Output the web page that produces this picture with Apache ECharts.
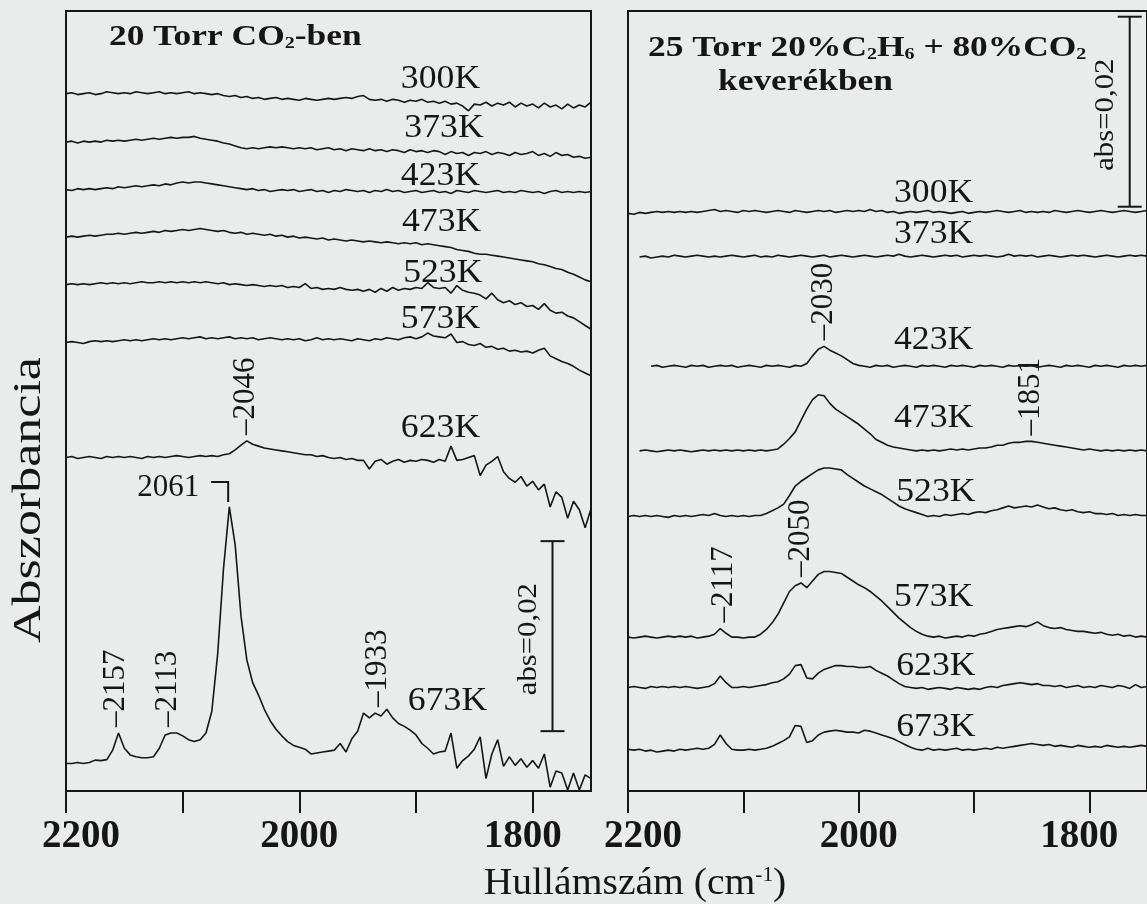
<!DOCTYPE html>
<html>
<head>
<meta charset="utf-8">
<script src="https://cdn.jsdelivr.net/npm/echarts@6.0.0/dist/echarts.min.js"></script>
<style>
  html, body { margin: 0; padding: 0; background: #e9ecea; }
  #chart { width: 1147px; height: 904px; }
</style>
</head>
<body>
<div id="chart"></div>
<script>
// ---------------------------------------------------------------
// Data: temperature series of IR spectra, absorbance in mAbs
// (1 mAbs = 0.001 abs) relative to the start of each trace,
// sampled on a 5 cm-1 grid from 2200 down to 1750 cm-1.
// ---------------------------------------------------------------
const temperatures = ['300K', '373K', '423K', '473K', '523K', '573K', '623K', '673K'];

const wavenumbers = [];
for (let w = 2200; w >= 1750; w -= 5) wavenumbers.push(w);

// 20 Torr CO2
const co2_300 = [
  0, 0.1, -0.1, 0, 0.1, -0.1, 0, 0.2, 0.1, 0,
  0.1, 0, 0.2, 0.1, 0, 0.1, 0.2, 0, 0.1, 0,
  0.1, 0.2, 0, 0.1, 0, -0.1, 0, -0.2, -0.3, -0.2,
  -0.4, -0.3, -0.5, -0.4, -0.6, -0.5, -0.4, -0.6, -0.5, -0.6,
  -0.7, -0.5, -0.6, -0.7, -0.6, -0.5, -0.6, -0.5, -0.4, -0.5,
  -0.3, -0.2, -0.6, -0.7, -0.6, -0.8, -0.6, -0.7, -0.9, -0.7,
  -0.8, -0.6, -0.9, -0.8, -1.0, -0.8, -1.1, -1.0, -1.3, -1.8,
  -1.1, -1.2, -0.9, -1.3, -1.0, -1.2, -0.9, -1.4, -1.0, -1.3,
  -1.1, -1.5, -1.0, -1.4, -1.2, -1.6, -1.1, -1.5, -1.2, -1.4,
  -0.9
];
const co2_373 = [
  0, 0.1, -0.1, 0.1, 0, 0.1, 0, 0.2, 0.1, 0.2,
  0.1, 0.2, 0.3, 0.2, 0.3, 0.4, 0.3, 0.4, 0.5, 0.4,
  0.5, 0.5, 0.6, 0.4, 0.3, 0.2, 0.1, -0.1, -0.2, -0.4,
  -0.6, -0.7, -0.6, -0.7, -0.6, -0.5, -0.6, -0.5, -0.6, -0.7,
  -0.6, -0.7, -0.6, -0.8, -0.7, -0.6, -0.8, -0.7, -0.9, -0.7,
  -0.8, -0.9, -0.7, -0.9, -0.8, -1.0, -0.8, -0.9, -1.1, -0.8,
  -1.0, -0.9, -1.1, -0.9, -1.0, -1.3, -1.0, -1.2, -1.1, -1.4,
  -1.1, -1.2, -1.0, -1.3, -1.1, -1.2, -1.4, -1.1, -1.3, -1.2,
  -1.0, -1.4, -1.2, -1.5, -1.1, -1.4, -1.3, -1.6, -1.5, -1.7,
  -1.6
];
const co2_423 = [
  0, -0.1, 0.1, 0, 0.1, 0, 0.1, 0.2, 0.1, 0.3,
  0.2, 0.3, 0.4, 0.3, 0.4, 0.5, 0.4, 0.6, 0.5, 0.7,
  0.8, 0.7, 0.8, 0.8, 0.7, 0.6, 0.5, 0.4, 0.3, 0.2,
  0.1, 0, 0.1, -0.1, 0, -0.2, -0.1, 0, -0.1, 0,
  -0.2, -0.1, 0, -0.2, -0.1, -0.3, -0.1, -0.2, 0, -0.1,
  -0.2, -0.1, -0.3, -0.1, -0.2, 0, -0.2, -0.1, -0.3, -0.2,
  -0.1, -0.3, -0.2, -0.1, -0.3, -0.2, -0.4, -0.1, -0.2, -0.3,
  -0.1, -0.2, -0.3, -0.2, -0.1, -0.3, -0.2, -0.3, -0.1, -0.2,
  -0.3, -0.2, -0.4, -0.2, -0.1, -0.3, -0.2, -0.3, -0.2, -0.3,
  -0.2
];
const co2_473 = [
  0, 0.1, 0, 0.1, 0.2, 0.1, 0.2, 0.3, 0.3, 0.4,
  0.3, 0.4, 0.5, 0.4, 0.5, 0.6, 0.5, 0.7, 0.6, 0.7,
  0.8, 0.7, 0.8, 0.9, 0.8, 0.7, 0.6, 0.7, 0.5, 0.4,
  0.5, 0.3, 0.4, 0.3, 0.2, 0.3, 0.1, 0.2, 0, 0.1,
  -0.1, 0, -0.1, -0.2, -0.1, -0.3, -0.2, -0.3, -0.4, -0.3,
  -0.4, -0.5, -0.4, -0.5, -0.6, -0.5, -0.6, -0.7, -0.6, -0.7,
  -0.6, -0.8, -0.7, -0.8, -0.9, -1.0, -1.1, -1.3, -1.4, -1.5,
  -1.7, -1.8, -1.8, -1.9, -2.0, -2.1, -2.2, -2.3, -2.4, -2.5,
  -2.6, -2.8, -2.9, -3.1, -3.3, -3.4, -3.7, -3.9, -4.2, -4.5,
  -4.7
];
const co2_523 = [
  0, 0.1, 0, 0.1, 0, 0.1, 0.2, 0.1, 0.2, 0.1,
  0.2, 0.1, 0.2, 0.3, 0.2, 0.2, 0.3, 0.2, 0.3, 0.2,
  0.3, 0.2, 0.3, 0.2, 0.3, 0.2, 0.1, 0.2, 0, 0.1,
  0, -0.1, 0, -0.1, -0.2, -0.1, -0.2, -0.1, -0.3, -0.2,
  -0.3, 0.1, -0.4, -0.3, -0.5, -0.4, -0.5, -0.3, -0.5, -0.6,
  -0.5, -0.7, -0.5, -0.8, -0.4, -0.7, -0.3, -0.6, -0.4, -0.5,
  -0.3, -0.4, 0.2, -0.3, -0.4, -0.3, -0.9, -0.1, -0.6, -0.8,
  -0.9, -1.1, -1.5, -0.9, -1.6, -1.9, -1.7, -2.1, -1.9, -2.3,
  -2.2, -2.6, -2.0, -2.7, -3.0, -2.9, -3.3, -3.5, -3.9, -4.3,
  -4.7
];
const co2_573 = [
  0, 0.1, 0, -0.1, 0.1, 0.2, 0.1, 0.2, 0.1, 0.2,
  0.3, 0.2, 0.3, 0.2, 0.3, 0.4, 0.3, 0.4, 0.3, 0.4,
  0.5, 0.4, 0.5, 0.6, 0.4, 0.5, 0.4, 0.5, 0.6, 0.4,
  0.5, 0.4, 0.5, 0.3, 0.4, 0.5, 0.4, 0.3, 0.4, 0.3,
  0.4, 0.2, 0.3, 0.5, 0.3, 0.4, 0.3, 0.4, 0.3, 0.2,
  0.4, 0.3, 0.2, 0.4, 0.3, 0.5, 0.4, 0.3, 0.5, 0.6,
  0.4, 0.6, 1.0, 0.7, 0.6, 0.5, 0.9, 0, 0.1, -0.2,
  -0.3, -0.1, -0.5, -0.4, -0.7, -0.6, -0.9, -0.8, -1.0, -0.9,
  -1.1, -0.8, -0.6, -1.4, -1.7, -2.0, -2.2, -2.5, -2.9, -3.2,
  -3.5
];
const co2_623 = [
  0, 0.1, -0.1, 0, 0.1, 0, -0.1, 0.1, 0, 0.1,
  0, 0.1, 0, -0.1, 0.1, 0, 0.1, 0, 0.1, 0.2,
  0.1, 0, 0.1, 0.2, 0.1, 0.2, 0.1, 0.3, 0.4, 0.8,
  1.3, 1.75, 1.4, 1.2, 1.0, 0.9, 0.8, 0.7, 0.6, 0.5,
  0.4, 0.3, 0.3, 0.1, 0.2, 0, -0.1, 0, -0.2, -0.1,
  -0.3, -0.3, -1.2, -0.4, -0.2, -0.7, -0.4, -0.2, -0.5, -0.3,
  -0.4, -0.2, -0.3, -0.5, -0.2, -0.4, 1.2, -0.3, -0.2, 0,
  0.2, -1.9, -0.8, -0.4, 0.1, -1.5, -2.2, -2.6, -2.0, -3.0,
  -2.5, -3.4, -2.8, -5.2, -3.6, -4.2, -6.4, -4.6, -5.5, -7.4,
  -5.4
];
const co2_673 = [
  0, 0, 0.1, 0, 0.1, 0.35, 0.3, 0.4, 1.4, 3.2,
  1.6, 0.9, 0.7, 0.6, 0.6, 0.7, 1.6, 3.0, 3.2, 3.2,
  2.9, 2.5, 2.3, 2.5, 3.2, 5.5, 11.5, 20.5, 27.0, 23.0,
  15.5, 10.9, 8.5, 7.2, 5.7, 4.5, 3.6, 2.9, 2.3, 1.9,
  1.7, 1.5, 1.0, 1.1, 1.2, 1.3, 1.4, 2.1, 1.2, 2.6,
  3.4, 5.3, 4.8, 5.3, 5.0, 5.7, 4.8, 4.2, 3.9, 3.5,
  3.0, 2.1, 1.6, 1.0, 1.2, 1.3, 3.2, -0.5, 0.3, 0.8,
  1.5, 2.8, -1.6, 1.0, 2.5, -0.3, 0.7, -0.2, 0.5, -0.4,
  0.3, -0.5, 1.0, -2.5, -0.8, -1.0, -2.8, -1.0, -2.8, -1.2,
  -1.6
];
const co2Offsets = [73.4, 68.3, 63.3, 58.3, 53.3, 47.2, 35.1, 2.9];

// 25 Torr 20% C2H6 + 80% CO2 (null: trace not recorded there)
const mix_300 = [
  0, -0.1, 0.1, 0, 0.1, 0.2, 0.1, 0.2, 0.1, 0.2,
  0.1, 0.2, 0.1, 0.2, 0.3, 0.4, 0.2, 0.3, 0.2, 0.1,
  0.3, 0.2, 0.3, 0.2, 0.1, 0.2, 0.3, 0.2, 0.1, 0.3,
  0.2, 0.1, 0.2, 0.3, 0.2, 0.3, 0.1, 0.2, 0.3, 0.2,
  0.3, 0.2, 0.4, 0.2, 0.3, 0.1, 0.2, 0, 0.1, 0.2,
  0.1, 0.2, 0.3, 0.1, 0.2, 0.1, 0, 0.1, 0.2, 0,
  0.1, 0.2, 0.1, 0.2, 0.3, 0.2, 0.1, 0.2, 0.3, 0.1,
  0.2, 0.1, 0.2, 0.1, 0.3, 0.2, 0.1, 0.2, 0.3, 0.2,
  0.1, 0.2, 0.3, 0.2, 0.1, 0.2, 0.3, 0.2, 0.1, 0.2,
  0.3
];
const mix_373 = [
  null, null, 0, 0.1, -0.1, 0, 0.1, 0, 0.2, 0.1,
  0, 0.1, 0.2, 0.1, 0, 0.1, 0, 0.1, 0.2, 0.1,
  0, 0.1, 0.2, 0, 0.1, 0, 0.2, 0.1, 0, 0.1,
  0.2, 0.1, 0, 0.1, 0.2, 0, 0.1, 0.2, 0.1, 0,
  0.1, 0.2, 0.1, 0, 0.1, 0.2, 0.1, 0.3, 0.1, 0,
  0.1, 0.2, 0.1, 0, 0.1, 0.2, 0.1, 0.2, 0, 0.1,
  0.2, 0.1, 0.2, 0.1, 0, 0.1, 0.3, 0.1, 0.2, 0.1,
  0.2, 0, 0.1, 0.2, 0.1, 0, 0.1, 0.2, 0.1, 0.2,
  0.1, 0, 0.1, 0.2, 0.1, 0, 0.1, 0.2, 0.1, 0.2,
  0.1
];
const mix_423 = [
  null, null, null, null, 0, 0.1, -0.1, 0, 0.1, 0,
  -0.1, 0.1, 0, 0.1, -0.1, 0, 0.1, 0, 0.1, -0.1,
  0, 0.1, 0, -0.1, 0.1, 0, 0.1, 0, -0.1, 0.1,
  0, 0.3, 1.1, 1.8, 2.1, 1.7, 1.4, 1.1, 0.7, 0.3,
  0.1, 0, -0.1, 0.1, 0, 0.1, -0.1, 0, 0.1, 0,
  -0.1, 0.1, 0, 0.1, 0, -0.1, 0.1, 0, 0.1, 0,
  -0.1, 0.1, 0, 0.1, 0, -0.1, 0.1, 0, 0.1, 0,
  0.1, -0.1, 0, 0.1, 0, -0.1, 0.1, 0, 0.1, 0,
  -0.1, 0.1, 0, 0.1, 0, -0.1, 0.1, 0, 0.1, 0,
  0.1
];
const mix_473 = [
  null, null, 0, 0.1, 0, -0.1, 0, 0.1, 0, 0.1,
  0, -0.1, 0, 0.1, 0, 0.1, 0, 0.1, 0, 0.1,
  0, 0.1, 0, 0.1, 0, 0.1, 0.2, 0.7, 1.3, 2.0,
  3.2, 4.4, 5.4, 5.9, 5.8, 5.0, 4.4, 4.0, 3.6, 3.2,
  2.8, 2.3, 1.8, 1.2, 0.9, 0.6, 0.4, 0.3, 0.2, 0.1,
  0, 0.1, 0, 0.1, 0, 0.1, 0.2, 0.1, 0.2, 0.1,
  0.2, 0.3, 0.3, 0.4, 0.6, 0.6, 0.8, 0.9, 0.9, 1.0,
  1.0, 0.9, 0.8, 0.7, 0.6, 0.5, 0.4, 0.3, 0.2, 0.1,
  0.2, 0.1, 0, 0.1, 0, 0.1, 0, 0.1, 0, 0.1,
  0
];
const mix_523 = [
  0, 0.1, 0, 0.1, 0, 0.1, 0, -0.1, 0.1, 0,
  0.1, 0, 0.1, 0.2, 0.1, 0.3, 0.1, 0, 0.1, 0,
  0.1, 0, 0.1, 0.1, 0.3, 0.6, 0.9, 1.3, 2.2, 3.2,
  3.7, 4.1, 4.5, 4.9, 5.1, 5.1, 5.0, 4.9, 4.4, 4.0,
  3.6, 3.2, 2.9, 2.6, 2.3, 1.9, 1.5, 1.1, 0.8, 0.6,
  0.4, 0.2, 0, 0.1, 0, 0.2, 0.1, 0.2, 0.3, 0.2,
  0.4, 0.5, 0.4, 0.6, 0.7, 0.9, 1.1, 0.9, 1.0, 1.1,
  1.0, 1.2, 1.0, 0.8, 0.9, 0.7, 0.6, 0.7, 0.5, 0.4,
  0.5, 0.3, 0.3, 0.2, 0.3, 0.1, 0.2, 0.1, 0.2, 0.1,
  0.1
];
const mix_573 = [
  0, -0.1, 0, 0.1, 0, -0.1, 0, 0.1, 0, 0.1,
  0, 0.1, -0.1, 0, 0.1, 0.3, 0.9, 0.4, 0, 0,
  -0.1, 0, 0, 0.3, 0.8, 1.5, 2.4, 3.6, 4.8, 5.4,
  5.7, 5.2, 5.9, 6.6, 6.9, 6.9, 6.8, 6.7, 6.3, 5.9,
  5.5, 5.2, 4.8, 4.3, 3.8, 3.2, 2.6, 2.0, 1.5, 1.0,
  0.6, 0.3, 0.1, 0, 0.1, -0.1, 0, 0.1, 0, 0.2,
  0.1, 0.3, 0.4, 0.6, 0.8, 0.9, 1.0, 1.1, 1.2, 1.1,
  1.3, 1.6, 1.2, 1.0, 0.9, 1.0, 0.8, 0.7, 0.6, 0.6,
  0.5, 0.4, 0.5, 0.3, 0.2, 0.3, 0.1, 0.2, 0, 0.1,
  0
];
const mix_623 = [
  0, 0.1, 0, -0.1, 0.1, 0, 0.1, 0, 0.1, 0,
  0.1, 0, -0.1, 0, 0.1, 0.4, 1.2, 0.5, 0, 0,
  0.1, 0, 0.1, 0.2, 0.3, 0.5, 0.6, 0.9, 1.4, 2.3,
  2.4, 1.0, 0.9, 1.5, 1.9, 2.1, 2.3, 2.3, 2.2, 2.2,
  2.1, 2.1, 2.2, 1.8, 1.5, 1.2, 0.8, 0.4, 0.1, 0,
  -0.1, 0, -0.2, -0.1, 0, -0.1, -0.2, 0, -0.1, -0.2,
  -0.1, -0.2, 0, 0.1, 0, 0.2, 0.3, 0.4, 0.5, 0.4,
  0.3, 0.4, 0.2, 0.2, 0.1, 0.2, 0, 0.1, 0.2, 0,
  0.1, 0, 0.2, 0.1, 0, 0.2, 0.1, -0.1, 0.3, 0,
  0.1
];
const mix_673 = [
  0, -0.1, 0, -0.2, -0.1, -0.3, -0.2, -0.1, -0.2, 0,
  -0.1, 0, 0.1, 0, 0.1, 0.5, 1.5, 0.6, 0, -0.1,
  -0.1, 0, -0.1, 0, 0.1, 0.3, 0.6, 0.9, 1.3, 2.5,
  2.4, 0.7, 0.9, 1.5, 1.8, 1.9, 2.0, 1.9, 1.8, 1.8,
  1.7, 2.0, 1.9, 1.7, 1.5, 1.3, 1.1, 0.8, 0.5, 0.2,
  0, -0.1, 0.1, -0.1, 0, -0.1, 0, 0.1, -0.1, 0,
  -0.1, 0, 0.1, 0, 0.2, 0.1, 0.2, 0.3, 0.4, 0.5,
  0.6, 0.5, 0.4, 0.5, 0.3, 0.4, 0.3, 0.2, 0.4, 0.3,
  0.2, 0.3, 0.2, 0.4, 0.3, 0.2, 0.3, 0.2, 0.3, 0.4,
  0.3
];
const mixOffsets = [60.8, 56.2, 44.7, 35.8, 28.9, 16.2, 10.9, 4.4];

// Marked band positions (cm-1) and the trace index they belong to
const co2Peaks = [[2157, 7], [2113, 7], [1933, 7], [2046, 6]];
const co2MainPeak = [2061, 7];
const mixPeaks = [[2030, 2], [1851, 3], [2117, 5], [2050, 5]];

// Axis ticks
const tickValues = [2200, 2100, 2000, 1900, 1800];
const tickLabels = [2200, 2000, 1800];

// Absorbance scale bar: 0.02 abs = 20 mAbs
const scaleBarHeight = 20;

// ---------------------------------------------------------------
// Layout and styling
// ---------------------------------------------------------------
const INK = '#161616';
const SERIF = '"Liberation Serif", "Times New Roman", "DejaVu Serif", serif';
const WN_MIN = 1750, WN_MAX = 2200, V_MAX = 82.1;

const panels = [
  {
    traces: [co2_300, co2_373, co2_423, co2_473, co2_523, co2_573, co2_623, co2_673],
    offsets: co2Offsets,
    grid: { left: 66, top: 11, width: 525, height: 780 },
    // temperature tags: [wavenumber, level in mAbs]
    tags: [[1879, 74.9], [1876, 69.8], [1879, 64.7], [1878, 59.9], [1877, 54.5], [1879, 49.7], [1879, 38.2], [1873, 9.5]],
    bar: [1783, 6.3]
  },
  {
    traces: [mix_300, mix_373, mix_423, mix_473, mix_523, mix_573, mix_623, mix_673],
    offsets: mixOffsets,
    grid: { left: 628, top: 11, width: 525, height: 780 },
    tags: [[1935, 62.9], [1935, 58.6], [1935, 47.5], [1935, 39.3], [1933, 31.5], [1935, 20.4], [1933, 13.1], [1933, 6.7]],
    bar: [1765, 61.5]
  }
];

const tickFont = { fontFamily: SERIF, fontSize: 39, fontWeight: 'bold', color: INK };

function xAxisFor(g) {
  return {
    type: 'value', gridIndex: g, min: WN_MIN, max: WN_MAX, inverse: true,
    axisLine: { show: true, onZero: false, lineStyle: { color: INK, width: 2 } },
    axisTick: { show: true, inside: false, length: 22, customValues: tickValues,
                lineStyle: { color: INK, width: 2 } },
    axisLabel: {
      show: true, customValues: tickLabels, margin: 26,
      ...tickFont,
      formatter: v => (v === 2200 ? '{a|' : v === 1800 ? '{c|' : '{b|') + v + '}',
      rich: {
        a: { ...tickFont, padding: [0, 0, 0, 30] },
        b: { ...tickFont },
        c: { ...tickFont, padding: [0, 20, 0, 0] }
      }
    },
    splitLine: { show: false }
  };
}

const series = [];
panels.forEach((p, g) => {
  p.traces.forEach((vals, k) => {
    const data = [];
    vals.forEach((v, i) => { if (v !== null) data.push([wavenumbers[i], v + p.offsets[k]]); });
    series.push({
      type: 'line', name: temperatures[k], xAxisIndex: g, yAxisIndex: g, data,
      symbol: 'none', silent: true, animation: false, z: 3,
      lineStyle: { color: INK, width: 1.6 }
    });
  });
});

const chart = echarts.init(document.getElementById('chart'), null, { renderer: 'canvas' });
chart.setOption({
  backgroundColor: '#e9ecea',
  animation: false,
  grid: panels.map(p => ({ ...p.grid, show: true, borderColor: INK, borderWidth: 2,
                           backgroundColor: 'transparent' })),
  xAxis: panels.map((p, g) => xAxisFor(g)),
  yAxis: panels.map((p, g) => ({ type: 'value', gridIndex: g, min: 0, max: V_MAX, show: false })),
  series
});

// ---------------------------------------------------------------
// Annotations placed through the axes' own scales
// ---------------------------------------------------------------
const toPx = (g, wn, v) => chart.convertToPixel({ gridIndex: g }, [wn, v]);

function text(x, y, str, o) {
  o = o || {};
  return {
    type: 'text', x, y, rotation: o.rotation || 0, scaleX: o.scaleX || 1, silent: true, z: 20,
    style: {
      legacy: false, text: str, fill: INK,
      fontFamily: SERIF, fontSize: o.size || 30, fontWeight: o.weight || 'normal',
      align: o.align || 'center', verticalAlign: 'middle', rich: o.rich
    }
  };
}
function seg(x1, y1, x2, y2) {
  return { type: 'line', silent: true, z: 20,
           shape: { x1, y1, x2, y2 }, style: { stroke: INK, lineWidth: 2 } };
}
function peakTop(g, k, wn) {
  const p = panels[g];
  let best = -Infinity;
  wavenumbers.forEach((w, i) => {
    const v = p.traces[k][i];
    if (Math.abs(w - wn) <= 5 && v !== null) best = Math.max(best, v + p.offsets[k]);
  });
  return toPx(g, wn, best);
}

const graphics = [];

// temperature tags
panels.forEach((p, g) => {
  p.tags.forEach((t, k) => {
    const [x, y] = toPx(g, t[0], t[1]);
    graphics.push(text(x, y, temperatures[k], { size: 34, scaleX: 1.05 }));
  });
});

// rotated band labels ("–2157" etc.) sitting just above the band maximum
const bandLabels = [[0, co2Peaks], [1, mixPeaks]];
bandLabels.forEach(([g, list]) => {
  list.forEach(([wn, k]) => {
    const [x, y] = peakTop(g, k, wn);
    graphics.push(text(x, y - 6, '\u2013' + wn, { size: 31, rotation: Math.PI / 2, align: 'left' }));
  });
});

// main CO band with bracket label
{
  const [x, y] = peakTop(0, co2MainPeak[1], co2MainPeak[0]);
  graphics.push({ type: 'polyline', silent: true, z: 20,
    shape: { points: [[x - 17, y - 25], [x, y - 25], [x, y - 5]] },
    style: { stroke: INK, lineWidth: 2, fill: null } });
  graphics.push(text(x - 29, y - 19, String(co2MainPeak[0]), { size: 31, align: 'right' }));
}

// absorbance scale bars
panels.forEach((p, g) => {
  const [x, y0] = toPx(g, p.bar[0], p.bar[1]);
  const [, y1] = toPx(g, p.bar[0], p.bar[1] + scaleBarHeight);
  graphics.push(seg(x, y0, x, y1), seg(x - 12, y0, x + 12, y0), seg(x - 12, y1, x + 12, y1));
  graphics.push(text(x - 24, (y0 + y1) / 2 + 3, 'abs=0,02', { size: 27, scaleX: 1.14, rotation: Math.PI / 2 }));
});

// panel titles
const subRich = (size) => ({ s: { fontFamily: SERIF, fontSize: size, fontWeight: 'bold', fill: INK, verticalAlign: 'bottom' } });
graphics.push(text(109, 37, '20 Torr CO{s|2}-ben', { size: 30, weight: 'bold', align: 'left', scaleX: 1.18, rich: subRich(17) }));
graphics.push(text(648, 48, '25 Torr 20%C{s|2}H{s|6} + 80%CO{s|2}', { size: 30, weight: 'bold', align: 'left', scaleX: 1.18, rich: subRich(17) }));
graphics.push(text(718, 82, 'keverékben', { size: 30, weight: 'bold', align: 'left', scaleX: 1.18 }));

// axis titles
graphics.push(text(635, 884, 'Hullámszám (cm{u|-1})', { size: 37, scaleX: 1.07,
  rich: { u: { fontFamily: SERIF, fontSize: 20, fill: INK, verticalAlign: 'top' } } }));
graphics.push(text(29, 500, 'Abszorbancia', { size: 40, scaleX: 1.3, rotation: Math.PI / 2 }));

chart.setOption({ graphic: { elements: graphics } });
</script>
</body>
</html>
